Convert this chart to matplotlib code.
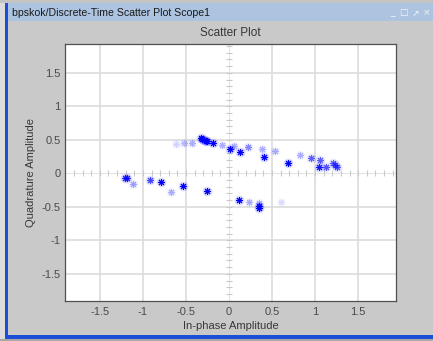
import numpy as np
import matplotlib
matplotlib.use("Agg")
import matplotlib.pyplot as plt
from matplotlib.patches import Rectangle

plt.rcParams['font.family'] = ['Liberation Sans', 'DejaVu Sans']

# ---- data (in-phase, quadrature, intensity) ----
i_vals = [-0.33, -0.31, -0.29, -0.27, -0.25, -0.19, 0.01, 0.13, 0.41, 0.68, 1.04,
          -0.53, -0.25, 0.12, 0.35, 0.35, -0.79, -1.21, -1.18, -0.92,
          0.95, 1.06, 1.13, 1.21, 1.23, 1.25, 0.22,
          -0.085, 0.06, 0.38, 0.53, 0.83, -0.43, -0.52, -1.12, -0.67, 0.23, 0.35,
          -0.61, 0.60]
q_vals = [0.52, 0.51, 0.50, 0.49, 0.48, 0.45, 0.36, 0.32, 0.24, 0.16, 0.09,
          -0.19, -0.26, -0.40, -0.49, -0.51, -0.125, -0.075, -0.075, -0.10,
          0.23, 0.20, 0.09, 0.15, 0.12, 0.10, 0.39,
          0.43, 0.41, 0.36, 0.33, 0.27, 0.46, 0.46, -0.155, -0.28, -0.43, -0.44,
          0.44, -0.43]
intensity = [1, 1, 1, 1, 1, 1, 1, 1, 1, 1, 0.9,
             1, 1, 1, 1, 1, 1, 0.8, 0.8, 0.7,
             0.6, 0.6, 0.65, 0.6, 0.6, 0.65, 0.45,
             0.3, 0.3, 0.3, 0.3, 0.3, 0.3, 0.25, 0.35, 0.3, 0.3, 0.3,
             0.15, 0.12]
tick_vals = [-1.5, -1, -0.5, 0, 0.5, 1, 1.5]
tick_labels = ['-1.5', '-1', '-0.5', '0', '0.5', '1', '1.5']

W, H = 433, 341
fig = plt.figure(figsize=(W / 100, H / 100), dpi=100)
fig.patch.set_facecolor('#c9c9c9')

def px_rect(x0, y0, x1, y1, color, z=0):
    fig.patches.append(Rectangle((x0 / W, 1 - y1 / H), (x1 - x0) / W, (y1 - y0) / H,
                                 transform=fig.transFigure, facecolor=color,
                                 edgecolor='none', zorder=z))

# window frame
px_rect(0, 0, 5, H, '#dcdcdc')
px_rect(0, 0, W, 3, '#c4c4c4')
px_rect(5, 3, W, 21, '#adc4e0')
px_rect(5, 3, 8, 339, '#1d4fd6')
px_rect(5, 335, W, 339, '#1d4fd6')
px_rect(0, 339, W, H, '#a9a9a9')

fig.text(12 / W, 1 - 13 / H, 'bpskok/Discrete-Time Scatter Plot Scope1', fontsize=7.6,
         color='#1a1a1a', ha='left', va='center')
for xp, s in [(392, '_'), (403, '\u25a1'), (415, '\u2197'), (427, '\u00d7')]:
    fig.text(xp / W, 1 - 13 / H, s, fontsize=6.5, color='#f4f4f4', ha='center', va='center',
             family=['DejaVu Sans'])

ax = fig.add_axes([65 / W, 1 - 301 / H, 331 / W, 257 / H])
ax.set_facecolor('white')
ax.set_xlim(-1.905, 1.94)
ax.set_ylim(-1.905, 1.93)

for v in tick_vals:
    if v == 0:
        continue
    ax.axvline(v, color='#dcdcdc', lw=1.2, zorder=1)
    ax.axhline(v, color='#dcdcdc', lw=1.2, zorder=1)
ax.axvline(0, color='#e4e4e4', lw=0.8, zorder=1)
ax.axhline(0, color='#e4e4e4', lw=0.8, zorder=1)
minor = np.round(np.arange(-1.9, 1.95, 0.1), 2)
ax.plot(np.zeros_like(minor), minor, ls='none', marker='_', ms=4.5, mew=0.8,
        color='#cacaca', zorder=1.5)
ax.plot(minor, np.zeros_like(minor), ls='none', marker='|', ms=4.0, mew=0.8,
        color='#cacaca', zorder=1.5)

for x, y, a in zip(i_vals, q_vals, intensity):
    ax.plot(x, y, ls='none', marker='o', ms=7, mew=0, color='blue', alpha=a * 0.15, zorder=2)
    ax.plot(x, y, ls='none', marker=(8, 2, 0), ms=5, mew=0.75, color='blue', alpha=a, zorder=3)

ax.set_xticks(tick_vals)
ax.set_xticklabels(tick_labels)
ax.set_yticks(tick_vals)
ax.set_yticklabels(tick_labels)
ax.tick_params(length=0, labelsize=8, labelcolor='#4a4a4a', pad=4)
ax.tick_params(axis='y', pad=3)
for sp in ax.spines.values():
    sp.set_color('#505050')
    sp.set_linewidth(0.9)

ax.set_title('Scatter Plot', fontsize=8.5, color='#383838', pad=6)
ax.set_xlabel('In-phase Amplitude', fontsize=8, color='#383838', labelpad=3)
ax.set_ylabel('Quadrature Amplitude', fontsize=8, color='#383838', labelpad=4)

fig.savefig('out.png', dpi=100, facecolor=fig.get_facecolor())
